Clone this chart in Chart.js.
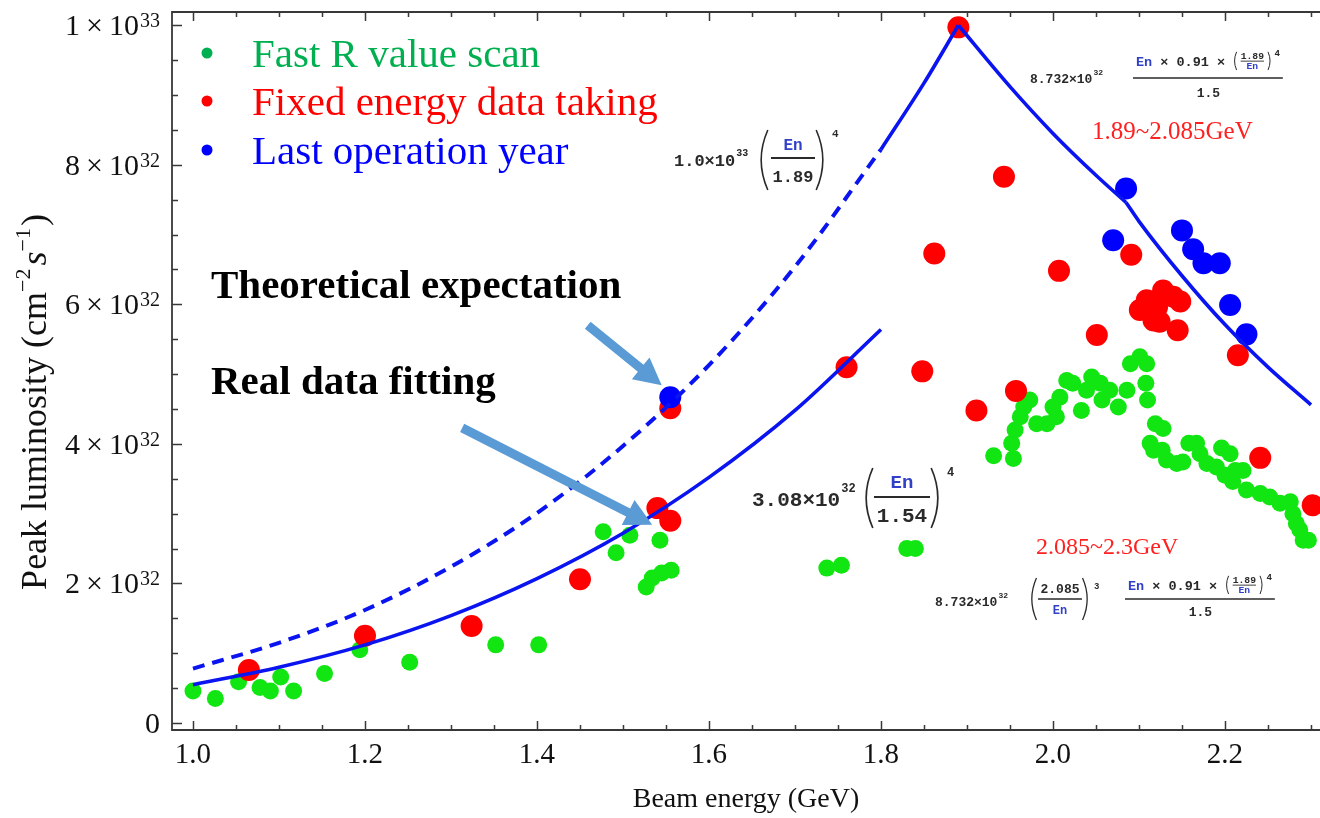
<!DOCTYPE html>
<html>
<head>
<meta charset="utf-8">
<title>Peak luminosity vs beam energy</title>
<script src="https://cdn.jsdelivr.net/npm/chart.js@4.4.1/dist/chart.umd.min.js"></script>
<style>
  html, body { margin: 0; padding: 0; background: #ffffff; }
  #wrap { width: 1320px; height: 818px; }
</style>
</head>
<body>
<div id="wrap"><canvas id="lumi" width="1320" height="818"></canvas></div>
<script>
// Beam energy in GeV, peak luminosity in units of 1e32 cm^-2 s^-1

// Fast R value scan
const fastScanE = [1.000, 1.026, 1.053, 1.078, 1.090, 1.102, 1.117, 1.153, 1.194, 1.252,
  1.352, 1.402, 1.477, 1.492, 1.508, 1.527, 1.534, 1.543, 1.545, 1.556,
  1.737, 1.754, 1.830, 1.840,
  1.931, 1.954, 1.952, 1.956, 1.962, 1.966, 1.973, 1.981, 1.993, 2.000,
  2.004, 2.008, 2.016, 2.023, 2.033, 2.039, 2.045, 2.055, 2.057, 2.066,
  2.076, 2.086, 2.090, 2.101, 2.109, 2.108, 2.110, 2.113, 2.117, 2.119,
  2.128, 2.127, 2.132, 2.144, 2.151, 2.158, 2.167, 2.171, 2.179, 2.190,
  2.196, 2.200, 2.206, 2.209, 2.212, 2.221, 2.225, 2.241, 2.252, 2.264,
  2.276, 2.279, 2.283, 2.287, 2.291, 2.297];
const fastScanL = [0.46, 0.35, 0.59, 0.51, 0.46, 0.66, 0.46, 0.71, 1.05, 0.87,
  1.12, 1.12, 2.74, 2.44, 2.69, 1.95, 2.08, 2.62, 2.15, 2.19,
  2.22, 2.26, 2.50, 2.50,
  3.83, 3.79, 4.01, 4.20, 4.39, 4.53, 4.63, 4.29, 4.29, 4.53,
  4.39, 4.67, 4.91, 4.87, 4.48, 4.77, 4.96, 4.87, 4.63, 4.77,
  4.53, 4.77, 5.15, 5.25, 5.15, 4.87, 4.63, 4.01, 3.91, 4.29,
  4.22, 3.91, 3.77, 3.72, 3.74, 4.01, 4.01, 3.86, 3.72, 3.67,
  3.94, 3.55, 3.86, 3.46, 3.62, 3.62, 3.34, 3.29, 3.24, 3.15,
  3.17, 3.00, 2.86, 2.77, 2.62, 2.62];

// Fixed energy data taking
const fixedE = [1.065, 1.200, 1.324, 1.450, 1.540, 1.555, 1.555, 1.760, 1.848, 1.862,
  1.890, 1.911, 1.943, 1.957, 2.007, 2.051, 2.091, 2.101, 2.109, 2.117,
  2.121, 2.124, 2.128, 2.140, 2.148, 2.145, 2.215, 2.241, 2.302];
const fixedL = [0.76, 1.25, 1.39, 2.06, 3.08, 2.90, 4.51, 5.10, 5.04, 6.73,
  9.97, 4.48, 7.83, 4.76, 6.48, 5.56, 6.71, 5.92, 6.06, 5.77,
  5.96, 5.75, 6.20, 6.11, 6.04, 5.63, 5.27, 3.80, 3.12];

// Last operation year
const lastYearE = [1.555, 2.070, 2.085, 2.150, 2.163, 2.175, 2.194, 2.206, 2.225];
const lastYearL = [4.67, 6.92, 7.66, 7.06, 6.79, 6.59, 6.59, 5.99, 5.57];

// Theoretical expectation below 1.8 GeV (dashed)
const theoryLowE = [1.0, 1.1, 1.2, 1.3, 1.4, 1.5, 1.6, 1.7, 1.8];
const theoryLowL = [0.78, 1.15, 1.62, 2.24, 3.01, 3.97, 5.13, 6.54, 8.22];
// Theoretical expectation 1.8 - 1.89 GeV
const theoryRiseE = [1.8, 1.85, 1.89];
const theoryRiseL = [8.22, 9.17, 10.0];
// 1.89 - 2.085 GeV
const theoryMidE = [1.89, 1.95, 2.0, 2.05, 2.085];
const theoryMidL = [10.0, 9.12, 8.45, 7.85, 7.46];
// 2.085 - 2.3 GeV
const theoryHighE = [2.085, 2.1, 2.15, 2.2, 2.25, 2.3];
const theoryHighL = [7.46, 7.19, 6.41, 5.71, 5.10, 4.56];

// Real data fitting
const fitE = [1.0, 1.1, 1.2, 1.3, 1.4, 1.5, 1.6, 1.7, 1.8];
const fitL = [0.55, 0.80, 1.12, 1.54, 2.07, 2.72, 3.52, 4.48, 5.64];

// Axis ticks
const xTickValues = [1.0, 1.2, 1.4, 1.6, 1.8, 2.0, 2.2];
const xTickLabels = ['1.0', '1.2', '1.4', '1.6', '1.8', '2.0', '2.2'];
const yTickValues = [0, 2, 4, 6, 8, 10];
const yTickMant = ['0', '2\u2009×\u200910', '4\u2009×\u200910', '6\u2009×\u200910', '8\u2009×\u200910', '1\u2009×\u200910'];
const yTickExp = ['', '32', '32', '32', '32', '33'];

const legendLabels = ['Fast R value scan', 'Fixed energy data taking', 'Last operation year'];

// Arrow endpoints in data space: [tailE, tailL, tipE, tipL]
const arrowTheory = [1.459, 5.70, 1.545, 4.84];
const arrowFit = [1.313, 4.23, 1.534, 2.84];

const SERIF = '"Liberation Serif", "Times New Roman", serif';
const MONO = '"Liberation Mono", "Courier New", monospace';
const INK = '#2a2a2a';
const EN_BLUE = '#3040c8';
const GREEN_PT = '#12e612';
const RED_PT = '#ff0000';
const BLUE_PT = '#0000ff';
const CURVE = '#0a14f0';

const pts = (xs, ys) => xs.map((x, i) => ({ x, y: ys[i] }));

function txt(ctx, s, x, y, size, color, align, weight, family) {
  ctx.font = `${weight || 'bold'} ${size}px ${family || MONO}`;
  ctx.fillStyle = color;
  ctx.textAlign = align || 'left';
  ctx.textBaseline = 'alphabetic';
  ctx.fillText(s, x, y);
  return ctx.measureText(s).width;
}

function paren(ctx, x, y0, y1, open, lw) {
  const w = (y1 - y0) * 0.13;
  ctx.beginPath();
  if (open) {
    ctx.moveTo(x + w, y0);
    ctx.quadraticCurveTo(x - w * 0.7, (y0 + y1) / 2, x + w, y1);
  } else {
    ctx.moveTo(x - w, y0);
    ctx.quadraticCurveTo(x + w * 0.7, (y0 + y1) / 2, x - w, y1);
  }
  ctx.strokeStyle = INK;
  ctx.lineWidth = lw;
  ctx.stroke();
}

function hbar(ctx, x0, x1, y, lw) {
  ctx.beginPath();
  ctx.moveTo(x0, y);
  ctx.lineTo(x1, y);
  ctx.strokeStyle = INK;
  ctx.lineWidth = lw;
  ctx.stroke();
}

// numerator "En × 0.91 × (1.89/En)^4"
function numerator(ctx, x, base, size) {
  let cx = x;
  cx += txt(ctx, 'En', cx, base, size, EN_BLUE);
  cx += txt(ctx, ' × 0.91 × ', cx, base, size, INK);
  paren(ctx, cx + 1, base - size * 1.05, base + size * 0.3, true, 1);
  cx += size * 0.55;
  const s2 = size * 0.72;
  ctx.font = `bold ${s2}px ${MONO}`;
  const fw = ctx.measureText('1.89').width;
  txt(ctx, '1.89', cx + fw / 2, base - size * 0.5, s2, INK, 'center');
  hbar(ctx, cx, cx + fw, base - size * 0.36, 0.9);
  txt(ctx, 'En', cx + fw / 2, base + size * 0.22, s2, EN_BLUE, 'center');
  cx += fw + size * 0.55;
  paren(ctx, cx - 1, base - size * 1.05, base + size * 0.3, false, 1);
  txt(ctx, '4', cx + 3, base - size * 0.72, size * 0.68, INK);
  return cx + size * 0.7 - x;
}

function arrow(ctx, x0, y0, x1, y1) {
  const ang = Math.atan2(y1 - y0, x1 - x0);
  const headL = 27, headW = 14, shaft = 4.5;
  const bx = x1 - headL * Math.cos(ang), by = y1 - headL * Math.sin(ang);
  const nx = -Math.sin(ang), ny = Math.cos(ang);
  ctx.beginPath();
  ctx.moveTo(x0 + nx * shaft, y0 + ny * shaft);
  ctx.lineTo(bx + nx * shaft, by + ny * shaft);
  ctx.lineTo(bx + nx * headW, by + ny * headW);
  ctx.lineTo(x1, y1);
  ctx.lineTo(bx - nx * headW, by - ny * headW);
  ctx.lineTo(bx - nx * shaft, by - ny * shaft);
  ctx.lineTo(x0 - nx * shaft, y0 - ny * shaft);
  ctx.closePath();
  ctx.fillStyle = '#5b9bd5';
  ctx.fill();
}

const whiteBg = {
  id: 'whiteBg',
  beforeDraw(chart) {
    const { ctx, width, height } = chart;
    ctx.save();
    ctx.fillStyle = '#ffffff';
    ctx.fillRect(0, 0, width, height);
    ctx.restore();
  }
};

// frame with inward major/minor ticks, and y tick labels with exponents
const frameTicks = {
  id: 'frameTicks',
  beforeDatasetsDraw(chart) {
    const { ctx, chartArea: a, scales: { x, y } } = chart;
    ctx.save();
    ctx.strokeStyle = '#383838';
    ctx.lineWidth = 1.8;
    ctx.beginPath();
    ctx.moveTo(a.right + 2, a.top);
    ctx.lineTo(a.left, a.top);
    ctx.lineTo(a.left, a.bottom);
    ctx.lineTo(a.right + 2, a.bottom);
    ctx.stroke();
    ctx.lineWidth = 1.5;
    ctx.beginPath();
    for (let k = 0; ; k++) {
      const v = 1.0 + k * 0.05;
      if (v > x.max) break;
      const px = Math.round(x.getPixelForValue(v)) + 0.5;
      const len = k % 4 === 0 ? 9 : 5;
      ctx.moveTo(px, a.bottom); ctx.lineTo(px, a.bottom - len);
      ctx.moveTo(px, a.top); ctx.lineTo(px, a.top + len);
    }
    for (let k = 0; ; k++) {
      const v = k * 0.5;
      if (v > y.max) break;
      const py = Math.round(y.getPixelForValue(v)) + 0.5;
      const len = k % 4 === 0 ? 10 : 6;
      ctx.moveTo(a.left, py); ctx.lineTo(a.left + len, py);
    }
    ctx.stroke();

    // y tick labels: mantissa × 10 with raised exponent
    ctx.fillStyle = '#111';
    ctx.textAlign = 'right';
    ctx.textBaseline = 'alphabetic';
    const xr = a.left - 12;
    y.ticks.forEach(t => {
      const i = yTickValues.findIndex(v => Math.abs(v - t.value) < 1e-6);
      if (i < 0) return;
      const py = y.getPixelForValue(t.value);
      let ew = 0;
      if (yTickExp[i]) {
        ctx.font = `20px ${SERIF}`;
        ew = ctx.measureText(yTickExp[i]).width + 1;
        ctx.fillText(yTickExp[i], xr, py + 2);
      }
      ctx.font = `30px ${SERIF}`;
      ctx.fillText(yTickMant[i], xr - ew, py + 10);
    });
    ctx.restore();
  }
};

const notes = {
  id: 'notes',
  afterDraw(chart) {
    const { ctx, scales: { x, y } } = chart;
    ctx.save();

    // legend
    const legColors = ['#00b050', '#ff0000', '#0000ff'];
    const legY = [53, 101, 150];
    legendLabels.forEach((s, i) => {
      ctx.beginPath();
      ctx.arc(207, legY[i], 5.5, 0, Math.PI * 2);
      ctx.fillStyle = legColors[i];
      ctx.fill();
      ctx.font = `41px ${SERIF}`;
      ctx.fillStyle = legColors[i];
      ctx.textAlign = 'left';
      ctx.textBaseline = 'alphabetic';
      ctx.fillText(s, 252, legY[i] + 14);
    });

    // captions
    txt(ctx, 'Theoretical expectation', 211, 298, 41, '#000', 'left', 'bold', SERIF);
    txt(ctx, 'Real data fitting', 211, 394, 41, '#000', 'left', 'bold', SERIF);

    // arrows
    [arrowTheory, arrowFit].forEach(a => {
      arrow(ctx, x.getPixelForValue(a[0]), y.getPixelForValue(a[1]),
        x.getPixelForValue(a[2]), y.getPixelForValue(a[3]));
    });

    // 1.0×10^33 (En/1.89)^4
    {
      const b = 166;
      let cx = 674;
      cx += txt(ctx, '1.0×10', cx, b, 17, INK);
      txt(ctx, '33', cx + 1, b - 10, 10, INK);
      paren(ctx, 760, 130, 190, true, 1.6);
      txt(ctx, 'En', 793, 150, 16, EN_BLUE, 'center');
      hbar(ctx, 771, 815, 158, 2);
      txt(ctx, '1.89', 793, 182, 17, INK, 'center');
      paren(ctx, 824, 130, 190, false, 1.6);
      txt(ctx, '4', 832, 137, 11, INK);
    }

    // 3.08×10^32 (En/1.54)^4
    {
      const b = 506;
      let cx = 752;
      cx += txt(ctx, '3.08×10', cx, b, 21, INK);
      txt(ctx, '32', cx + 1, b - 14, 12, INK);
      paren(ctx, 865, 468, 528, true, 1.7);
      txt(ctx, 'En', 902, 488, 19, EN_BLUE, 'center');
      hbar(ctx, 874, 930, 497, 2.2);
      txt(ctx, '1.54', 902, 522, 21, INK, 'center');
      paren(ctx, 939, 468, 528, false, 1.7);
      txt(ctx, '4', 947, 476, 12, INK);
    }

    // 8.732×10^32 (En×0.91×(1.89/En)^4)/1.5
    {
      let cx = 1030;
      cx += txt(ctx, '8.732×10', cx, 83, 13, INK);
      txt(ctx, '32', cx + 1, 75, 8, INK);
      const w = numerator(ctx, 1136, 66, 13.5);
      hbar(ctx, 1133, 1136 + w + 2, 78, 1.3);
      txt(ctx, '1.5', 1136 + w / 2, 97, 13, INK, 'center');
    }

    // 8.732×10^32 (2.085/En)^3 (En×0.91×(1.89/En)^4)/1.5
    {
      let cx = 935;
      cx += txt(ctx, '8.732×10', cx, 606, 13, INK);
      txt(ctx, '32', cx + 1, 598, 8, INK);
      paren(ctx, 1031, 578, 620, true, 1.3);
      txt(ctx, '2.085', 1060, 593, 13, INK, 'center');
      hbar(ctx, 1038, 1082, 599, 1.3);
      txt(ctx, 'En', 1060, 614, 12, EN_BLUE, 'center');
      paren(ctx, 1088, 578, 620, false, 1.3);
      txt(ctx, '3', 1094, 589, 9, INK);
      const w = numerator(ctx, 1128, 590, 13.5);
      hbar(ctx, 1125, 1128 + w + 2, 599, 1.3);
      txt(ctx, '1.5', 1128 + w / 2, 616, 13, INK, 'center');
    }

    // energy ranges
    txt(ctx, '1.89~2.085GeV', 1092, 139, 25, '#ff2020', 'left', 'normal', SERIF);
    txt(ctx, '2.085~2.3GeV', 1036, 554, 24, '#ff2020', 'left', 'normal', SERIF);

    // y axis title with superscripts
    {
      const fs = 36, sup = 22;
      const parts = [
        { t: 'Peak luminosity (cm', f: `${fs}px ${SERIF}`, dy: 0 },
        { t: '\u22122', f: `${sup}px ${SERIF}`, dy: -16 },
        { t: 's', f: `italic ${fs}px ${SERIF}`, dy: 0, pre: 3 },
        { t: '\u22121', f: `${sup}px ${SERIF}`, dy: -16 },
        { t: ')', f: `${fs}px ${SERIF}`, dy: 0, pre: 2 }
      ];
      let total = 0;
      parts.forEach(p => { ctx.font = p.f; p.w = ctx.measureText(p.t).width; total += p.w + (p.pre || 0); });
      ctx.translate(46, 402);
      ctx.rotate(-Math.PI / 2);
      ctx.fillStyle = '#111';
      ctx.textAlign = 'left';
      ctx.textBaseline = 'alphabetic';
      let cx = -total / 2;
      parts.forEach(p => {
        cx += (p.pre || 0);
        ctx.font = p.f;
        ctx.fillText(p.t, cx, p.dy);
        cx += p.w;
      });
    }
    ctx.restore();
  }
};

const scatterSet = (label, xs, ys, color, r, order) => ({
  label, data: pts(xs, ys), type: 'scatter', showLine: false,
  backgroundColor: color, borderColor: color, borderWidth: 0,
  pointRadius: r, pointHoverRadius: r, order
});

const curveSet = (label, xs, ys, dash) => ({
  label, data: pts(xs, ys), type: 'line', showLine: true,
  borderColor: CURVE, backgroundColor: CURVE, borderWidth: dash ? 4 : 3.6,
  borderDash: dash ? [12, 8] : [], pointRadius: 0, fill: false,
  cubicInterpolationMode: 'monotone', order: 0
});

const tickLabelFor = (vals, labels) => v => {
  const i = vals.findIndex(t => Math.abs(t - v) < 1e-6);
  return i >= 0 ? labels[i] : '';
};

new Chart(document.getElementById('lumi'), {
  type: 'scatter',
  data: {
    datasets: [
      scatterSet('Fast R value scan', fastScanE, fastScanL, GREEN_PT, 8.5, 5),
      scatterSet('Fixed energy data taking', fixedE, fixedL, RED_PT, 11, 4),
      scatterSet('Last operation year', lastYearE, lastYearL, BLUE_PT, 11, 3),
      curveSet('Theoretical expectation', theoryLowE, theoryLowL, true),
      curveSet('Theoretical expectation 1.8-1.89', theoryRiseE, theoryRiseL, false),
      curveSet('1.89~2.085GeV', theoryMidE, theoryMidL, false),
      curveSet('2.085~2.3GeV', theoryHighE, theoryHighL, false),
      curveSet('Real data fitting', fitE, fitL, false)
    ]
  },
  options: {
    responsive: false,
    animation: false,
    events: [],
    layout: { autoPadding: false, padding: { top: 12, right: 0, bottom: 0, left: 0 } },
    plugins: { legend: { display: false }, tooltip: { enabled: false } },
    scales: {
      x: {
        type: 'linear', min: 0.9756, max: 2.3105,
        afterFit(s) { s.height = 88; s.paddingLeft = 0; s.paddingRight = 0; },
        grid: { display: false, drawTicks: false },
        border: { display: false },
        ticks: {
          stepSize: 0.2, includeBounds: false, padding: 8, autoSkip: false, maxRotation: 0,
          color: '#111', font: { family: SERIF, size: 29 },
          callback: tickLabelFor(xTickValues, xTickLabels)
        },
        title: {
          display: true, text: 'Beam energy (GeV)', color: '#111',
          font: { family: SERIF, size: 28 }, padding: { top: 0, bottom: 2 }
        }
      },
      y: {
        type: 'linear', min: -0.1, max: 10.19,
        afterFit(s) { s.width = 172; s.paddingTop = 0; s.paddingBottom = 0; },
        grid: { display: false, drawTicks: false },
        border: { display: false },
        ticks: { display: false, stepSize: 2, includeBounds: false, autoSkip: false }
      }
    }
  },
  plugins: [whiteBg, frameTicks, notes]
});
</script>
</body>
</html>
